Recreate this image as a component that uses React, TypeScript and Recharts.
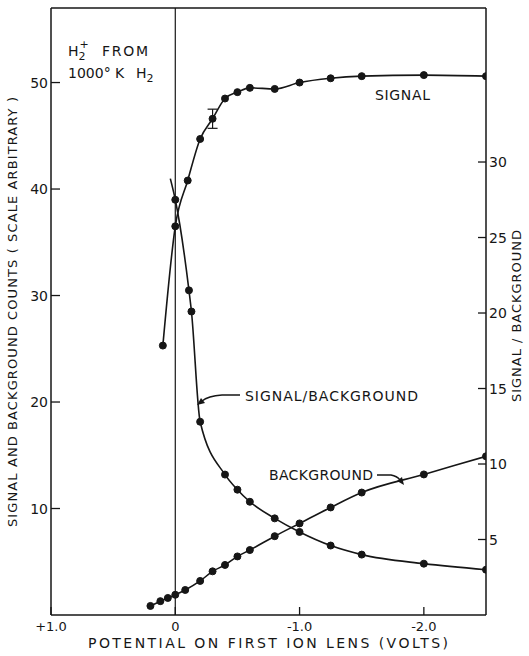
import React from "react";
import { LineChart, Line, XAxis, YAxis, ReferenceLine, ErrorBar } from "recharts";

// potential on first ion lens (volts) vs readings
const signalVolts = [0.1, 0, -0.1, -0.2, -0.3, -0.4, -0.5, -0.6, -0.8, -1.0, -1.25, -1.5, -2.0, -2.5];
const signalCounts = [25.3, 36.5, 40.8, 44.7, 46.6, 48.5, 49.1, 49.5, 49.4, 50.0, 50.4, 50.6, 50.7, 50.6];
const signalErrVolts = -0.3;
const signalErr = 0.9;

// first entry is the end of the drawn curve, no measured point there
const ratioVolts = [0.04, 0, -0.11, -0.13, -0.2, -0.4, -0.5, -0.6, -0.8, -1.0, -1.25, -1.5, -2.0, -2.5];
const ratioValues = [28.9, 27.5, 21.5, 20.1, 12.8, 9.3, 8.3, 7.5, 6.4, 5.5, 4.6, 4.0, 3.4, 3.0];

const backgroundVolts = [0.2, 0.12, 0.06, 0, -0.08, -0.2, -0.3, -0.4, -0.5, -0.6, -0.8, -1.0, -1.25, -1.5, -2.0, -2.5];
const backgroundCounts = [0.85, 1.3, 1.6, 1.9, 2.35, 3.2, 4.1, 4.7, 5.5, 6.1, 7.4, 8.6, 10.1, 11.5, 13.2, 14.9];

const xTicks = [1, 0, -1, -2];
const countTicks = [10, 20, 30, 40, 50];
const ratioTicks = [5, 10, 15, 20, 25, 30];

const ink = "#161616";
const font = "'DejaVu Sans', sans-serif";

const signalData = signalVolts.map((x, i) => ({
  x,
  y: signalCounts[i],
  err: x === signalErrVolts ? signalErr : undefined,
}));
const ratioData = ratioVolts.map((x, i) => ({ x, y: ratioValues[i] }));
const backgroundData = backgroundVolts.map((x, i) => ({ x, y: backgroundCounts[i] }));

const fmtVolts = (v: number) => (v === 0 ? "0" : v > 0 ? `+${v.toFixed(1)}` : `-${Math.abs(v).toFixed(1)}`);

const BottomTick = ({ x, y, payload }: any) => (
  <g>
    <line x1={x} y1={y} x2={x} y2={y - 8} stroke={ink} strokeWidth={1.3} />
    <text x={x} y={y + 16} textAnchor="middle" fontSize={13} fontFamily={font} fill={ink}>
      {fmtVolts(payload.value)}
    </text>
  </g>
);

const LeftTick = ({ x, y, payload }: any) => (
  <g>
    <line x1={x} y1={y} x2={x + 9} y2={y} stroke={ink} strokeWidth={1.3} />
    <text x={x - 3} y={y + 5} textAnchor="end" fontSize={14} fontFamily={font} fill={ink}>
      {payload.value}
    </text>
  </g>
);

const RightTick = ({ x, y, payload }: any) => (
  <g>
    <line x1={x} y1={y} x2={x - 8} y2={y} stroke={ink} strokeWidth={1.3} />
    <text x={x + 3} y={y + 5} textAnchor="start" fontSize={14} fontFamily={font} fill={ink}>
      {payload.value}
    </text>
  </g>
);

const dotStyle = { r: 3.5, fill: ink, stroke: ink, strokeWidth: 1 };

const ratioDot = (props: any) => {
  const { cx, cy, index } = props;
  if (index === 0) return <g key={`rd-${index}`} />;
  return <circle key={`rd-${index}`} cx={cx} cy={cy} r={3.5} fill={ink} stroke={ink} />;
};

export default function App() {
  return (
    <div style={{ position: "absolute", left: 0, top: 0, width: 529, height: 656, background: "#fff" }}>
      <LineChart width={529} height={656} margin={{ top: 8, right: 0, bottom: 0, left: 0 }}>
        <XAxis
          type="number"
          dataKey="x"
          domain={[-2.5, 1]}
          reversed
          ticks={xTicks}
          allowDataOverflow
          height={41}
          tickSize={0}
          tickMargin={0}
          tickLine={false}
          tick={<BottomTick />}
          axisLine={{ stroke: ink, strokeWidth: 1.5 }}
        />
        <YAxis
          yAxisId="left"
          type="number"
          domain={[0, 57]}
          ticks={countTicks}
          width={51}
          tickSize={0}
          tickMargin={0}
          tickLine={false}
          tick={<LeftTick />}
          axisLine={{ stroke: ink, strokeWidth: 1.5 }}
        />
        <YAxis
          yAxisId="right"
          orientation="right"
          type="number"
          domain={[0, 40.2]}
          ticks={ratioTicks}
          width={43}
          tickSize={0}
          tickMargin={0}
          tickLine={false}
          tick={<RightTick />}
          axisLine={{ stroke: ink, strokeWidth: 1.5 }}
        />
        <ReferenceLine yAxisId="left" y={57} stroke={ink} strokeWidth={1.5} />
        <ReferenceLine yAxisId="left" x={0} stroke={ink} strokeWidth={1.2} />
        <Line
          yAxisId="left"
          data={backgroundData}
          dataKey="y"
          type="monotone"
          stroke={ink}
          strokeWidth={1.6}
          dot={dotStyle}
          isAnimationActive={false}
        />
        <Line
          yAxisId="right"
          data={ratioData}
          dataKey="y"
          type="monotone"
          stroke={ink}
          strokeWidth={1.6}
          dot={ratioDot}
          isAnimationActive={false}
        />
        <Line
          yAxisId="left"
          data={signalData}
          dataKey="y"
          type="monotone"
          stroke={ink}
          strokeWidth={1.6}
          dot={dotStyle}
          isAnimationActive={false}
        >
          <ErrorBar dataKey="err" direction="y" width={5} stroke={ink} strokeWidth={1.2} />
        </Line>
      </LineChart>

      <svg
        width={529}
        height={656}
        style={{ position: "absolute", left: 0, top: 0, pointerEvents: "none" }}
        fontFamily={font}
        fill={ink}
      >
        <text x={68} y={56} fontSize={14}>
          H
          <tspan fontSize={11} dy={4}>2</tspan>
          <tspan fontSize={11} dx={-6} dy={-12}>+</tspan>
          <tspan x={102} dy={8} textLength={46} lengthAdjust="spacing">FROM</tspan>
        </text>
        <text x={68} y={78} fontSize={14}>
          1000° K
          <tspan x={136}>H</tspan>
          <tspan fontSize={11} dy={4}>2</tspan>
        </text>
        <text x={375} y={100} fontSize={14} textLength={55} lengthAdjust="spacing">
          SIGNAL
        </text>
        <text x={245} y={401} fontSize={14} textLength={173} lengthAdjust="spacing">
          SIGNAL/BACKGROUND
        </text>
        <text x={269} y={480} fontSize={14} textLength={104} lengthAdjust="spacing">
          BACKGROUND
        </text>
        <path d="M240,395 L222,395 Q208,396 202,401" fill="none" stroke={ink} strokeWidth={1.3} />
        <polygon points="197,405 201,398 205,403" fill={ink} />
        <path d="M377,475 L391,475 Q397,476 400,480" fill="none" stroke={ink} strokeWidth={1.3} />
        <polygon points="404,485 397,481 402,477" fill={ink} />

        <text
          transform="translate(17,312) rotate(-90)"
          textAnchor="middle"
          fontSize={13}
          textLength={430}
          lengthAdjust="spacing"
        >
          SIGNAL AND BACKGROUND COUNTS ( SCALE ARBITRARY )
        </text>
        <text
          transform="translate(521,316) rotate(-90)"
          textAnchor="middle"
          fontSize={13}
          textLength={172}
          lengthAdjust="spacing"
        >
          SIGNAL / BACKGROUND
        </text>
        <text x={268} y={648} textAnchor="middle" fontSize={14} textLength={360} lengthAdjust="spacing">
          POTENTIAL ON FIRST ION LENS (VOLTS)
        </text>
      </svg>
    </div>
  );
}
